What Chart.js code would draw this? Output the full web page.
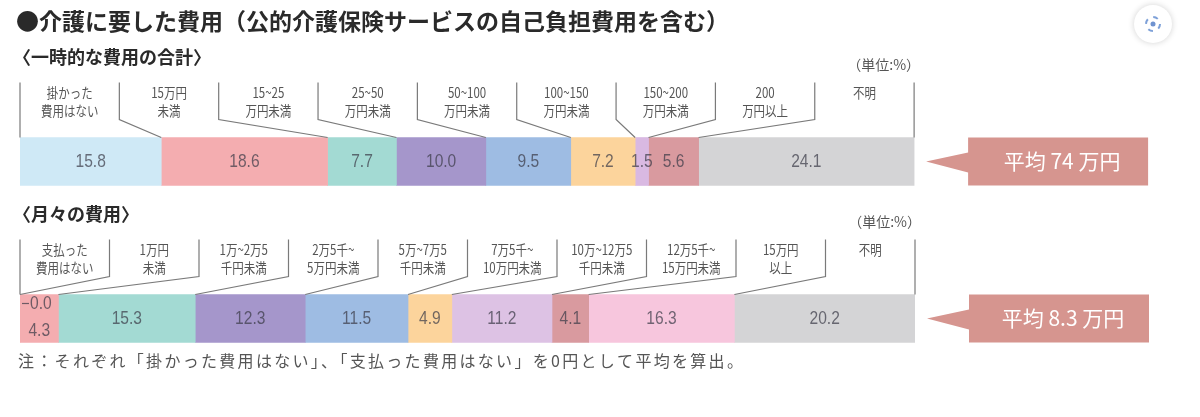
<!DOCTYPE html>
<html lang="ja">
<head>
<meta charset="utf-8">
<title>介護に要した費用</title>
<script src="https://cdn.jsdelivr.net/npm/chart.js@4.4.1/dist/chart.umd.min.js"></script>
<style>
  html, body { margin: 0; padding: 0; background: #fff; }
  #wrap { width: 1200px; height: 417px; }
</style>
</head>
<body>
<div id="wrap"><canvas id="care-chart" width="1200" height="417"></canvas></div>
<script>
// chart texts
const chartTitle = '●介護に要した費用（公的介護保険サービスの自己負担費用を含む）';
const rowTitles = ['〈一時的な費用の合計〉', '〈月々の費用〉'];
const unitText = '（単位:%）';
const noteText = '注：それぞれ「掛かった費用はない」、「支払った費用はない」を0円として平均を算出。';

// 一時的な費用の合計 (%)
const onceLabels = [
  ['掛かった', '費用はない'], ['15万円', '未満'], ['15~25', '万円未満'], ['25~50', '万円未満'],
  ['50~100', '万円未満'], ['100~150', '万円未満'], ['150~200', '万円未満'], ['200', '万円以上'], ['不明']
];
const onceValues = [15.8, 18.6, 7.7, 10.0, 9.5, 7.2, 1.5, 5.6, 24.1];
const onceColors = ['#cfe9f6', '#f4adb0', '#a3dad3', '#a596cb', '#9ebce3', '#fcd49c', '#d9b9e2', '#d99a9f', '#d4d4d6'];

// 月々の費用 (%)
const monthlyLabels = [
  ['支払った', '費用はない'], ['1万円', '未満'], ['1万~2万5', '千円未満'], ['2万5千~', '5万円未満'],
  ['5万~7万5', '千円未満'], ['7万5千~', '10万円未満'], ['10万~12万5', '千円未満'], ['12万5千~', '15万円未満'],
  ['15万円', '以上'], ['不明']
];
const monthlyValues = [0.0, 4.3, 15.3, 12.3, 11.5, 4.9, 11.2, 4.1, 16.3, 20.2];
const monthlyColors = ['#f4adb0', '#f4adb0', '#a3dad3', '#a596cb', '#9ebce3', '#fcd49c', '#ddc2e4', '#d99a9f', '#f7c6dd', '#d4d4d6'];

// 平均 (万円)
const averages = ['74', '8.3'];

const rows = [
  { labels: onceLabels, values: onceValues, colors: onceColors },
  { labels: monthlyLabels, values: monthlyValues, colors: monthlyColors }
];

const segCount = Math.max(onceValues.length, monthlyValues.length);
const datasets = [];
for (let k = 0; k < segCount; k++) {
  datasets.push({
    data: rows.map(r => k < r.values.length ? r.values[k] : null),
    backgroundColor: rows.map(r => r.colors[k] || 'rgba(0,0,0,0)'),
    borderWidth: 0,
    barThickness: 48
  });
}
const maxTotal = Math.max(...rows.map(r => r.values.reduce((a, b) => a + b, 0)));

const jp = '"Noto Sans CJK JP", "Noto Sans", sans-serif';
const num = '"Liberation Sans", Arial, sans-serif';

// narrow numbers like the printed figure
function narrowText(ctx, txt, x, y, align) {
  ctx.save();
  ctx.translate(x, y);
  ctx.scale(0.82, 1);
  ctx.textAlign = align;
  ctx.fillText(txt, 0, 0);
  ctx.restore();
}

const annotate = {
  id: 'annotate',
  afterDatasetsDraw(chart) {
    const ctx = chart.ctx;
    ctx.save();

    // title
    ctx.fillStyle = '#2a2a2a';
    ctx.font = 'bold 23px ' + jp;
    ctx.textAlign = 'left';
    ctx.textBaseline = 'middle';
    ctx.fillText(chartTitle, 16, 21);

    rows.forEach((row, r) => {
      const segs = row.values.map((v, k) => chart.getDatasetMeta(k).data[r].getProps(['x', 'y', 'base', 'height'], true));
      const barLeft = segs[0].base;
      const barRight = segs[segs.length - 1].x;
      const yMid = segs[0].y;
      const yTop = yMid - segs[0].height / 2;
      const n = row.labels.length;
      const colW = (barRight - barLeft) / n;

      // section title and unit
      ctx.fillStyle = '#2a2a2a';
      ctx.font = 'bold 18px ' + jp;
      ctx.textAlign = 'left';
      ctx.fillText(rowTitles[r], 13, yTop - 80);
      ctx.fillStyle = '#555';
      ctx.font = '14px ' + jp;
      ctx.textAlign = 'right';
      ctx.fillText(unitText, barRight + 6, yTop - 73);

      // column dividers and leader lines
      ctx.strokeStyle = '#7a7a7a';
      ctx.lineWidth = 1.2;
      for (let k = 0; k <= n; k++) {
        const xd = barLeft + k * colW;
        const xb = k < n ? segs[k].base : barRight;
        ctx.beginPath();
        ctx.moveTo(xd, yTop - 55);
        ctx.lineTo(xd, yTop - 18);
        ctx.lineTo(xb, yTop);
        ctx.stroke();
      }

      // column labels
      ctx.fillStyle = '#555';
      ctx.font = '14px ' + jp;
      row.labels.forEach((lines, k) => {
        const cx = barLeft + (k + 0.5) * colW;
        lines.forEach((t, i) => narrowText(ctx, t, cx, yTop - 45 + i * 18, 'center'));
      });

      // values
      ctx.font = '19px ' + num;
      ctx.fillStyle = 'rgba(60,60,72,0.72)';
      let shift = 0;
      row.values.forEach((v, k) => {
        const s = segs[k];
        if (v === 0) {
          ctx.strokeStyle = 'rgba(60,60,72,0.72)';
          ctx.beginPath();
          ctx.moveTo(s.base + 2, yTop + 9);
          ctx.lineTo(s.base + 9, yTop + 9);
          ctx.stroke();
          narrowText(ctx, v.toFixed(1), s.base + 10, yTop + 9, 'left');
          shift = 12;
          return;
        }
        narrowText(ctx, v.toFixed(1), (s.base + s.x) / 2, yMid + shift, 'center');
        shift = 0;
      });

      // average callout
      const bx0 = barRight + 54, bx1 = barRight + 234, tip = barRight + 12;
      ctx.fillStyle = '#d6958f';
      ctx.beginPath();
      ctx.moveTo(bx0, yTop);
      ctx.lineTo(bx1, yTop);
      ctx.lineTo(bx1, yTop + segs[0].height);
      ctx.lineTo(bx0, yTop + segs[0].height);
      ctx.lineTo(bx0, yMid + 11);
      ctx.lineTo(tip, yMid);
      ctx.lineTo(bx0, yMid - 9);
      ctx.closePath();
      ctx.fill();
      ctx.fillStyle = '#fff';
      ctx.font = '21px ' + jp;
      ctx.textAlign = 'center';
      ctx.fillText('平均 ' + averages[r] + ' 万円', (bx0 + bx1) / 2 + 4, yMid);
    });

    // note
    ctx.fillStyle = '#555';
    ctx.font = '16px ' + jp;
    ctx.letterSpacing = '2.3px';
    ctx.textAlign = 'left';
    ctx.fillText(noteText, 18, 361);
    ctx.letterSpacing = '0px';

    // lens button
    ctx.shadowColor = 'rgba(0,0,0,0.18)';
    ctx.shadowBlur = 6;
    ctx.fillStyle = '#fff';
    ctx.beginPath();
    ctx.arc(1153, 24, 19, 0, Math.PI * 2);
    ctx.fill();
    ctx.shadowBlur = 0;
    ctx.strokeStyle = '#7da0d8';
    ctx.lineWidth = 2;
    ctx.beginPath();
    ctx.arc(1153, 24, 7, 0, Math.PI * 2);
    ctx.setLineDash([5, 6]);
    ctx.stroke();
    ctx.setLineDash([]);
    ctx.fillStyle = '#6f93d0';
    ctx.beginPath();
    ctx.arc(1153, 24, 2.5, 0, Math.PI * 2);
    ctx.fill();

    ctx.restore();
  }
};

new Chart(document.getElementById('care-chart'), {
  type: 'bar',
  data: {
    labels: ['一時的な費用の合計', '月々の費用'],
    datasets: datasets
  },
  options: {
    indexAxis: 'y',
    responsive: false,
    animation: false,
    layout: { padding: { left: 20, right: 285, top: 83, bottom: 20 } },
    scales: {
      x: { stacked: true, min: 0, max: maxTotal, display: false },
      y: { stacked: true, display: false }
    },
    plugins: {
      legend: { display: false },
      tooltip: { enabled: false }
    }
  },
  plugins: [annotate]
});
</script>
</body>
</html>
